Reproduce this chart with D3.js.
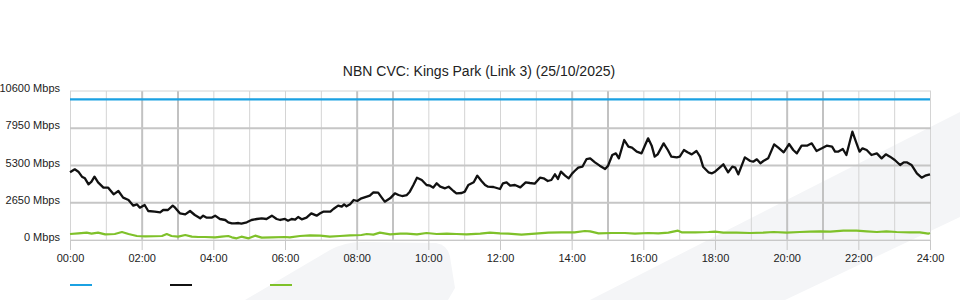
<!DOCTYPE html>
<html>
<head>
<meta charset="utf-8">
<script src="https://cdn.jsdelivr.net/npm/d3@7"></script>
<style>
  body { margin: 0; background: #fff; }
  svg { display: block; font-family: "Liberation Sans", Arial, sans-serif; }
</style>
</head>
<body>
<div id="chart"></div>
<script>
// Chart values
const chartTitle = "NBN CVC: Kings Park (Link 3) (25/10/2025)";
const yTicks = [0, 2650, 5300, 7950, 10600];

const capacityTimes = ["00:00", "24:00"];
const capacityMbps = [10000, 10000];

const downTimes = [
  "00:00","00:08","00:14","00:20","00:25","00:31","00:36","00:41","00:47","00:56",
  "01:04","01:13","01:21","01:29","01:38","01:46","01:52","01:57","02:05","02:11",
  "02:22","02:31","02:36","02:44","02:52","02:56","03:04","03:13","03:21","03:29",
  "03:38","03:43","03:49","03:57","04:03","04:11","04:20","04:25","04:31","04:36",
  "04:42","04:47","04:56","05:04","05:13","05:21","05:29","05:38","05:46","05:52",
  "06:00","06:05","06:11","06:17","06:22","06:28","06:36","06:44","06:53","06:59",
  "07:04","07:16","07:21","07:29","07:35","07:39","07:43","07:49","07:55","08:01",
  "08:08","08:17","08:22","08:28","08:36","08:42","08:47","08:56","09:04","09:10",
  "09:16","09:24","09:29","09:35","09:41","09:49","09:57","10:03","10:08","10:14",
  "10:20","10:28","10:34","10:42","10:47","10:56","11:01","11:07","11:16","11:22",
  "11:29","11:35","11:40","11:49","12:00","12:05","12:11","12:17","12:25","12:34",
  "12:43","12:50","12:58","13:07","13:13","13:20","13:26","13:32","13:37","13:42",
  "13:49","13:55","14:01","14:05","14:11","14:18","14:25","14:31","14:39","14:47",
  "14:56","15:01","15:08","15:14","15:19","15:28","15:35","15:41","15:49","15:57",
  "16:03","16:08","16:14","16:19","16:24","16:34","16:41","16:47","16:56","17:01",
  "17:08","17:14","17:21","17:29","17:35","17:40","17:49","17:55","18:00","18:14",
  "18:22","18:29","18:34","18:39","18:50","18:59","19:04","19:10","19:16","19:21",
  "19:29","19:39","19:46","19:55","20:04","20:11","20:17","20:25","20:34","20:42",
  "20:50","20:59","21:07","21:16","21:21","21:26","21:34","21:40","21:50","21:57",
  "22:02","22:07","22:14","22:22","22:31","22:39","22:46","22:53","23:01","23:10",
  "23:16","23:21","23:29","23:38","23:46","23:52","24:00"
];
const downMbps = [
  4814,5027,4861,4506,4387,3960,4150,4506,4103,3723,
  3723,3249,3486,3012,2846,2442,2537,2300,2490,2063,
  2015,1968,2134,2134,2442,2300,1897,1826,2063,1779,
  1541,1731,1589,1589,1731,1494,1423,1257,1185,1185,
  1209,1162,1257,1423,1494,1541,1494,1731,1494,1423,
  1494,1375,1494,1446,1636,1470,1589,1897,1731,1897,
  2015,2015,2205,2442,2371,2537,2395,2537,2846,2775,
  2964,3083,3154,3391,3367,3012,2727,2964,3320,3201,
  3130,3201,3439,3913,4435,4268,3913,3865,3723,4032,
  3794,3676,3794,3486,3320,3344,3439,3913,4103,4577,
  4197,3913,3794,3770,3628,4032,4103,3865,3913,3747,
  4103,4055,4008,4435,4387,4197,4268,4672,4340,4861,
  4577,4387,4743,4909,5145,5216,5762,5810,5525,5288,
  5051,5288,6047,6165,5810,7114,6640,6569,6284,6165,
  6758,7232,6711,5928,6094,6877,6403,5928,5881,5928,
  6403,6237,6094,6331,5928,5216,4814,4743,4861,5383,
  4814,5216,5145,4672,5881,5620,5573,5739,5454,5620,
  5810,6806,6569,6237,6829,6403,6165,6711,6711,6877,
  6331,6521,6711,6640,6284,6284,6474,6047,7707,6877,
  6284,6521,6403,6047,6165,5810,6094,5928,5691,5336,
  5525,5525,5336,4743,4435,4577,4672
];

const upTimes = [
  "00:00","00:14","00:28","00:36","00:47","00:59","01:15","01:27","01:38","01:52",
  "02:06","02:34","02:42","02:50","03:01","03:13","03:24","03:35","03:46","04:03",
  "04:14","04:25","04:31","04:39","04:47","04:59","05:10","05:21","05:38","06:00",
  "06:08","06:25","06:42","06:59","07:15","07:32","07:49","08:08","08:17","08:28",
  "08:39","08:56","09:13","09:24","09:41","09:57","10:14","10:31","10:47","11:04",
  "11:27","11:43","12:00","12:14","12:36","12:59","13:21","13:43","14:05","14:22",
  "14:31","14:45","15:07","15:29","15:46","16:08","16:25","16:42","16:58","17:04",
  "17:27","17:49","18:00","18:14","18:36","18:59","19:21","19:38","20:00","20:22",
  "20:39","20:56","21:13","21:35","21:57","22:14","22:31","22:47","23:04","23:26",
  "23:43","23:57","24:00"
];
const upMbps = [
  427,474,522,450,522,403,427,569,427,285,
  261,285,427,285,237,356,237,213,213,190,
  237,285,190,119,237,119,308,166,190,213,
  190,285,332,308,237,285,332,356,427,379,
  522,403,450,450,403,498,427,450,427,403,
  450,522,474,450,379,450,522,545,545,640,
  616,474,498,498,450,498,474,522,664,545,
  545,569,593,522,522,498,522,569,522,569,
  593,616,593,664,664,616,569,616,569,545,
  545,450,498
];

const seriesColors = ["#1ba1e2", "#111111", "#7fc12a"];

// Dimensions
const W = 960, H = 300;
const margin = { top: 91, right: 30, bottom: 60, left: 70 };

const toMin = s => { const p = s.split(":"); return +p[0] * 60 + +p[1]; };
const pad = n => (n < 10 ? "0" : "") + n;

const svg = d3.select("#chart").append("svg")
  .attr("width", W)
  .attr("height", H);

// Background watermark swoosh
svg.append("path")
  .attr("d", "M590,300 L960,112 L960,217 L785,300 Z")
  .attr("fill", "#f4f5f7");
svg.append("path")
  .attr("d", "M245,300 L330,250 Q345,242 362,242 L436,243 Q448,245 450,257 L455,288 L448,300 Z")
  .attr("fill", "#f4f5f7");

const x = d3.scaleLinear().domain([0, 1440]).range([margin.left, W - margin.right]);
const y = d3.scaleLinear().domain([0, 10600]).range([H - margin.bottom, margin.top]);

// Vertical hourly grid
const darkHours = [2, 3, 8, 9, 14, 15, 20, 21];
svg.append("g").selectAll("line")
  .data(d3.range(0, 25))
  .enter().append("line")
  .attr("x1", d => x(d * 60) + 0.5)
  .attr("x2", d => x(d * 60) + 0.5)
  .attr("y1", y(10600))
  .attr("y2", y(0))
  .attr("stroke", d => darkHours.includes(d) ? "#c2c2c2" : "#d4d4d4")
  .attr("stroke-width", d => darkHours.includes(d) ? 2 : 1);

// Horizontal grid
svg.append("g").selectAll("line")
  .data(yTicks)
  .enter().append("line")
  .attr("x1", x(0))
  .attr("x2", x(1440) + 1)
  .attr("y1", d => y(d))
  .attr("y2", d => y(d))
  .attr("stroke", d => (d === 0 || d === 10600) ? "#d4d4d4" : "#c6c6c6")
  .attr("stroke-width", d => (d === 0 || d === 10600) ? 1 : 2);

// X axis
const xAxis = svg.append("g")
  .attr("transform", `translate(0,${y(0)})`)
  .call(d3.axisBottom(x)
    .tickValues(d3.range(0, 1441, 120))
    .tickFormat(d => pad(d / 60) + ":00")
    .tickSize(10)
    .tickPadding(4));
xAxis.select(".domain").attr("stroke", "#c8c8c8");
xAxis.selectAll(".tick line").attr("stroke", "#c8c8c8");
xAxis.selectAll("text").attr("font-size", 11).attr("fill", "#222")
  .attr("font-family", "Liberation Sans, Arial, sans-serif");

// Y axis
const yAxis = svg.append("g")
  .attr("transform", `translate(${x(0)},0)`)
  .call(d3.axisLeft(y)
    .tickValues(yTicks)
    .tickFormat(d => d + " Mbps")
    .tickSize(0)
    .tickPadding(10));
yAxis.select(".domain").remove();
yAxis.selectAll("text").attr("font-size", 11).attr("fill", "#222")
  .attr("dy", "0.05em")
  .attr("font-family", "Liberation Sans, Arial, sans-serif");

// Lines
const line = d3.line()
  .x(d => x(d[0]))
  .y(d => y(d[1]));

const series = [
  d3.zip(capacityTimes.map(toMin), capacityMbps),
  d3.zip(downTimes.map(toMin), downMbps),
  d3.zip(upTimes.map(toMin), upMbps)
];
const drawOrder = [0, 2, 1];
drawOrder.forEach(i => {
  svg.append("path")
    .datum(series[i])
    .attr("d", line)
    .attr("fill", "none")
    .attr("stroke", seriesColors[i])
    .attr("stroke-width", i === 1 ? 2.3 : 2.2)
    .attr("stroke-linejoin", "round");
});

// Title
svg.append("text")
  .attr("x", 479)
  .attr("y", 76)
  .attr("text-anchor", "middle")
  .attr("font-size", 14)
  .attr("fill", "#222")
  .text(chartTitle);

// Legend (swatches only)
svg.append("g").selectAll("line")
  .data(seriesColors)
  .enter().append("line")
  .attr("x1", (d, i) => 70 + i * 100)
  .attr("x2", (d, i) => 92 + i * 100)
  .attr("y1", 285)
  .attr("y2", 285)
  .attr("stroke", d => d)
  .attr("stroke-width", 2);
</script>
</body>
</html>
